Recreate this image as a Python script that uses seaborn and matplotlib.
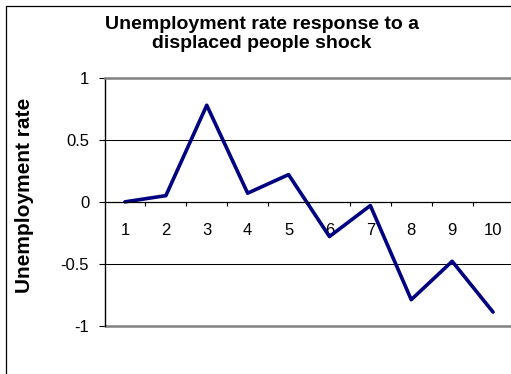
import matplotlib
matplotlib.use("Agg")
import numpy as np
import pandas as pd
import seaborn as sns
import matplotlib.pyplot as plt
from matplotlib.lines import Line2D

# data
periods = [1, 2, 3, 4, 5, 6, 7, 8, 9, 10]
response = [0.0, 0.05, 0.78, 0.07, 0.22, -0.28, -0.03, -0.79, -0.48, -0.89]
y_ticks = [-1, -0.5, 0, 0.5, 1]
y_tick_labels = ["-1", "-0.5", "0", "0.5", "1"]
x_tick_labels = [str(p) for p in periods]

df = pd.DataFrame({"period": periods, "rate": response})

sns.set_style("white")
plt.rcParams["font.family"] = ["Liberation Sans", "DejaVu Sans"]
plt.rcParams["text.color"] = "black"
plt.rcParams["xtick.color"] = "black"
plt.rcParams["ytick.color"] = "black"

fig = plt.figure(figsize=(5.11, 3.74), dpi=100)
ax = fig.add_axes([104.5 / 511, 48.3 / 374, 409 / 511, 247.7 / 374])

sns.lineplot(data=df, x="period", y="rate", color="#000080", linewidth=2.6, ax=ax)

ax.set_xlim(0.5, 10.5)
ax.set_ylim(-1, 1)

# gridlines
for g in [0.5, -0.5]:
    ax.axhline(g, color="black", lw=0.75, zorder=0)
ax.axhline(-1, color="#808080", lw=1.8, clip_on=False, zorder=1)

# spines
ax.spines["top"].set_color("#808080")
ax.spines["top"].set_linewidth(1.8)
ax.spines["right"].set_visible(False)
ax.spines["left"].set_color("black")
ax.spines["left"].set_linewidth(1.0)
ax.spines["bottom"].set_position(("data", 0))
ax.spines["bottom"].set_color("black")
ax.spines["bottom"].set_linewidth(0.9)

# x axis: labels at categories, ticks between
ax.set_xticks(periods)
ax.set_xticklabels(x_tick_labels, fontsize=12)
ax.set_xticks([p + 0.5 for p in periods[:-1]], minor=True)
ax.tick_params(axis="x", which="major", length=0, pad=15)
ax.tick_params(axis="x", which="minor", length=3.2, width=0.8, color="black",
               direction="out", bottom=True)

ax.set_yticks(y_ticks)
ax.set_yticklabels(y_tick_labels, fontsize=12)
ax.tick_params(axis="y", length=4, width=0.8, color="black", direction="out",
               left=True, pad=7)

ax.set_xlabel("")
ax.set_ylabel("")

fig.text(262 / 511, 1 - 34 / 374, "Unemployment rate response to a\ndisplaced people shock",
         ha="center", va="center", fontsize=14, fontweight="bold", linespacing=1.22)
fig.text(25 / 511, 1 - 195 / 374, "Unemployment rate", rotation=90,
         ha="center", va="center", fontsize=15, fontweight="bold")

# chart area border (left and top edges visible)
fig.add_artist(Line2D([5.5 / 511, 5.5 / 511], [0, 1 - 5.5 / 374],
                      transform=fig.transFigure, color="black", lw=0.9))
fig.add_artist(Line2D([5.5 / 511, 1], [1 - 5.5 / 374, 1 - 5.5 / 374],
                      transform=fig.transFigure, color="black", lw=0.9))

fig.savefig("out.png", dpi=100)
